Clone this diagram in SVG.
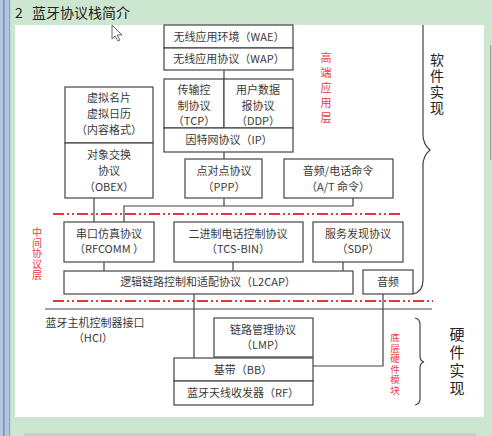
<svg xmlns="http://www.w3.org/2000/svg" width="492" height="436" viewBox="0 0 492 436">
<style>
.box{fill:#fff;stroke:#444;stroke-width:1.2}
.ln{fill:none;stroke:#444;stroke-width:1.2}
.red{fill:none;stroke:#e8343a;stroke-width:2;stroke-dasharray:11 3 2 3 2 3}
.t{font-family:"Noto Sans CJK SC","Noto Sans",sans-serif;font-size:11px;fill:#3a3a3a;text-anchor:middle}
.v{font-family:"Noto Sans CJK SC",sans-serif;writing-mode:vertical-rl;text-anchor:start}
.rt{fill:#ee3b3b}
.bt{fill:#222}
.ttl{font-family:"Noto Sans CJK SC",sans-serif;font-size:14px;fill:#222}
</style>
<!-- background -->
<rect x="0" y="0" width="492" height="436" fill="#cde6cf"/>
<rect x="0" y="0" width="10" height="436" fill="#b3c5df"/>
<rect x="3" y="0" width="1.5" height="436" fill="#7990b8"/>
<rect x="9" y="0" width="1.2" height="436" fill="#8ea3c6"/>
<rect x="15" y="25" width="469" height="392" fill="#fff"/>
<rect x="24" y="433" width="452" height="3" fill="#c9cfcb"/>
<rect x="490" y="45" width="1.2" height="115" fill="#9aa39c"/>
<text class="ttl" x="15" y="18">2</text>
<text class="ttl" x="32" y="18">蓝牙协议栈简介</text>
<!-- cursor -->
<path d="M112,25 L112,39 L115,36 L118,41 L120,40 L117,35 L122,35 Z" fill="#fff" stroke="#666" stroke-width="1"/>

<g id="connectors">
<path class="ln" d="M224,70 V79"/>
<path class="ln" d="M224,152 V159"/>
<path class="ln" d="M224,198 V206 M124,222 V206 H353 V198"/>
<path class="ln" d="M94,198 V222"/>
<path class="ln" d="M104,262 V271 M233,262 V271 M343,262 V271"/>
<path class="ln" d="M194,294 V358"/>
<path class="ln" d="M383,294 V366 H313"/>
<path class="ln" d="M45,309 H432" stroke-width="1.4"/>
<path class="red" d="M53,214 H403"/>
<path class="red" d="M53,301 H433"/>
<path class="ln" d="M423,25 V135 Q423,144 430,150 Q423,156 423,165 V280 Q423,292 413,294" stroke-width="1.3"/>
<path class="ln" d="M415,318 Q420,319 420,324 V356 Q420,361 424,362 Q420,363 420,368 V399 Q420,404 415,405" stroke-width="1.3"/>
</g>

<g id="wae"><rect class="box" x="164" y="25" width="129" height="23"/><text class="t" x="229" y="41">无线应用环境（WAE）</text></g>
<g id="wap"><rect class="box" x="164" y="48" width="129" height="22"/><text class="t" x="229" y="63">无线应用协议（WAP）</text></g>
<g id="tcp"><rect class="box" x="164" y="79" width="60" height="49"/><text class="t" x="194" y="94">传输控</text><text class="t" x="194" y="110">制协议</text><text class="t" x="194" y="125">（TCP）</text></g>
<g id="udp"><rect class="box" x="224" y="79" width="69" height="49"/><text class="t" x="258" y="94">用户数据</text><text class="t" x="258" y="110">报协议</text><text class="t" x="258" y="125">（DDP）</text></g>
<g id="ip"><rect class="box" x="164" y="128" width="129" height="24"/><text class="t" x="229" y="144">因特网协议（IP）</text></g>
<g id="vcard"><rect class="box" x="65" y="87" width="88" height="56"/><text class="t" x="109" y="102">虚拟名片</text><text class="t" x="109" y="118">虚拟日历</text><text class="t" x="109" y="134">（内容格式）</text></g>
<g id="obex"><rect class="box" x="65" y="143" width="88" height="55"/><text class="t" x="109" y="159">对象交换</text><text class="t" x="109" y="175">协议</text><text class="t" x="109" y="191">（OBEX）</text></g>
<g id="ppp"><rect class="box" x="185" y="159" width="77" height="39"/><text class="t" x="224" y="175">点对点协议</text><text class="t" x="224" y="191">（PPP）</text></g>
<g id="at"><rect class="box" x="284" y="159" width="109" height="39"/><text class="t" x="338" y="175">音频/电话命令</text><text class="t" x="338" y="191">（A/T 命令）</text></g>
<g id="rfcomm"><rect class="box" x="64" y="222" width="90" height="40"/><text class="t" x="109" y="238">串口仿真协议</text><text class="t" x="109" y="253">（RFCOMM ）</text></g>
<g id="tcs"><rect class="box" x="174" y="222" width="129" height="40"/><text class="t" x="238" y="238">二进制电话控制协议</text><text class="t" x="238" y="253">（TCS-BIN）</text></g>
<g id="sdp"><rect class="box" x="313" y="222" width="90" height="40"/><text class="t" x="358" y="238">服务发现协议</text><text class="t" x="358" y="253">（SDP）</text></g>
<g id="l2cap"><rect class="box" x="64" y="271" width="289" height="23"/><text class="t" x="208" y="286">逻辑链路控制和适配协议（L2CAP）</text></g>
<g id="audio"><rect class="box" x="363" y="270" width="50" height="24"/><text class="t" x="388" y="286">音频</text></g>
<g id="hci"><text class="t" x="95" y="327">蓝牙主机控制器接口</text><text class="t" x="93" y="342">（HCI）</text></g>
<g id="lmp"><rect class="box" x="214" y="318" width="99" height="39"/><text class="t" x="263" y="334">链路管理协议</text><text class="t" x="263" y="349">（LMP）</text></g>
<g id="bb"><rect class="box" x="174" y="358" width="139" height="23"/><text class="t" x="243" y="374">基带（BB）</text></g>
<g id="rf"><rect class="box" x="174" y="381" width="139" height="24"/><text class="t" x="243" y="397">蓝牙天线收发器（RF）</text></g>

<g id="labels">
<text class="v rt" x="326" y="52" font-size="11" letter-spacing="4">高端应用层</text>
<text class="v rt" x="37" y="227" font-size="10" letter-spacing="0.8">中间协议层</text>
<text class="v rt" x="395" y="333" font-size="9.5" letter-spacing="1">底层硬件模块</text>
<text class="v bt" x="437" y="53" font-size="14" letter-spacing="2">软件实现</text>
<text class="v bt" x="457" y="327" font-size="15" letter-spacing="3">硬件实现</text>
</g>
</svg>
